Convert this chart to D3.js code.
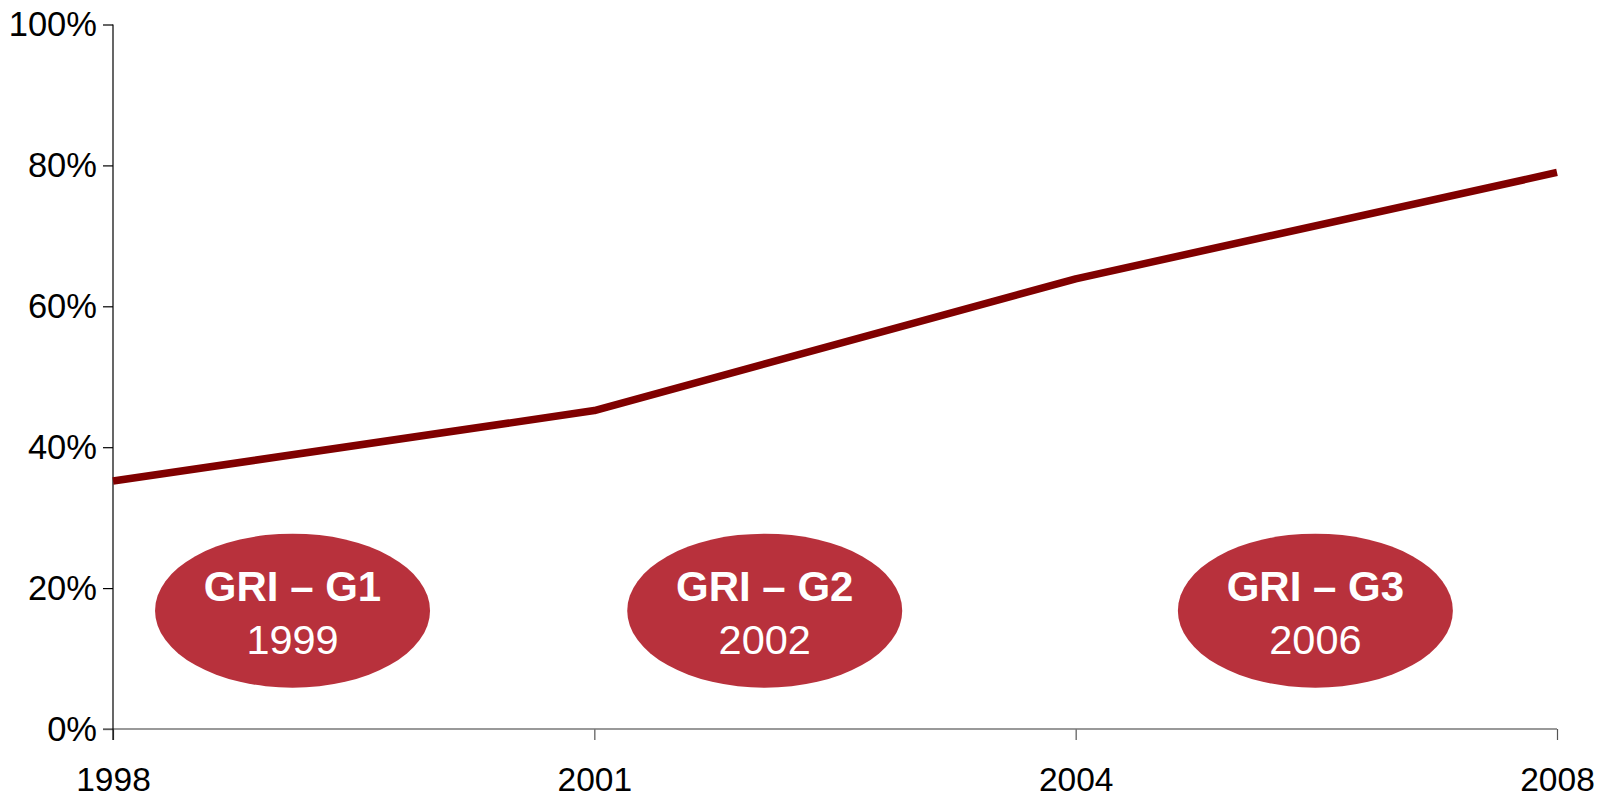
<!DOCTYPE html>
<html>
<head>
<meta charset="utf-8">
<script src="https://cdn.jsdelivr.net/npm/d3@7"></script>
<style>
  html, body { margin: 0; padding: 0; background: #fff; }
  svg { display: block; font-family: "Liberation Sans", Arial, sans-serif; }
</style>
</head>
<body>
<svg id="chart" width="1622" height="797"></svg>
<script>
// ---- data ----
const years = ["1998", "2001", "2004", "2008"];
const shareValues = [35.2, 45.2, 63.9, 79.0];
const yTickValues = [0, 20, 40, 60, 80, 100];
const badgeTitles = ["GRI \u2013 G1", "GRI \u2013 G2", "GRI \u2013 G3"];
const badgeYears = ["1999", "2002", "2006"];
const badgePositions = [0.373, 1.354, 2.498]; // position along category index
const badgeLevel = [16.8, 16.8, 16.8];

// ---- layout ----
const svg = d3.select("#chart");
const plotLeft = 113, plotRight = 1557, plotTop = 24.5, plotBottom = 729;

const x = d3.scalePoint().domain(years).range([plotLeft, plotRight]);
const xIndex = d3.scaleLinear().domain([0, years.length - 1]).range([plotLeft, plotRight]);
const y = d3.scaleLinear().domain([0, 100]).range([plotBottom, plotTop]);

// badges (drawn beneath the axes)
const badges = svg.append("g").selectAll("g")
  .data(badgeTitles.map((t, i) => ({ title: t, year: badgeYears[i], pos: badgePositions[i], v: badgeLevel[i] })))
  .join("g")
  .attr("transform", d => `translate(${xIndex(d.pos)},${y(d.v)})`);
badges.append("ellipse")
  .attr("rx", 137.5).attr("ry", 77)
  .attr("fill", "#B8313C");
badges.append("text")
  .attr("text-anchor", "middle")
  .attr("y", -9.5)
  .attr("fill", "#fff")
  .attr("font-size", 42)
  .attr("font-weight", "bold")
  .text(d => d.title);
badges.append("text")
  .attr("text-anchor", "middle")
  .attr("y", 43)
  .attr("fill", "#fff")
  .attr("font-size", 41.5)
  .text(d => d.year);

// y axis
const yAxis = d3.axisLeft(y)
  .tickValues(yTickValues)
  .tickFormat(d => d + "%")
  .tickSize(10)
  .tickSizeOuter(0)
  .tickPadding(6);
const gy = svg.append("g").attr("transform", `translate(${plotLeft},0)`).call(yAxis);
gy.select(".domain").remove();
gy.selectAll(".tick line").attr("stroke", "#000").attr("stroke-width", 1.2);
gy.selectAll(".tick text")
  .attr("font-size", 34.5)
  .attr("fill", "#000")
  .attr("font-family", "Liberation Sans, Arial, sans-serif");

// x axis
const xAxis = d3.axisBottom(x).tickSize(11).tickSizeOuter(0).tickPadding(0);
const gx = svg.append("g").attr("transform", `translate(0,${plotBottom})`).call(xAxis);
gx.select(".domain").remove();
gx.selectAll(".tick line").attr("stroke", "#555").attr("stroke-width", 1.2);
gx.selectAll(".tick text")
  .attr("font-size", 33.5)
  .attr("fill", "#000")
  .attr("dy", null)
  .attr("y", 62)
  .attr("font-family", "Liberation Sans, Arial, sans-serif");

// axis lines
svg.append("line")
  .attr("x1", plotLeft - 10).attr("x2", plotRight)
  .attr("y1", plotBottom).attr("y2", plotBottom)
  .attr("stroke", "#777").attr("stroke-width", 1.6);
svg.append("line")
  .attr("x1", plotLeft).attr("x2", plotLeft)
  .attr("y1", y(100)).attr("y2", plotBottom + 11)
  .attr("stroke", "#000").attr("stroke-width", 1.2);

// data line
const line = d3.line()
  .x((d, i) => x(years[i]))
  .y(d => y(d));
svg.append("path")
  .datum(shareValues)
  .attr("d", line)
  .attr("fill", "none")
  .attr("stroke", "#800000")
  .attr("stroke-width", 7.5)
  .attr("stroke-linejoin", "round");
</script>
</body>
</html>
